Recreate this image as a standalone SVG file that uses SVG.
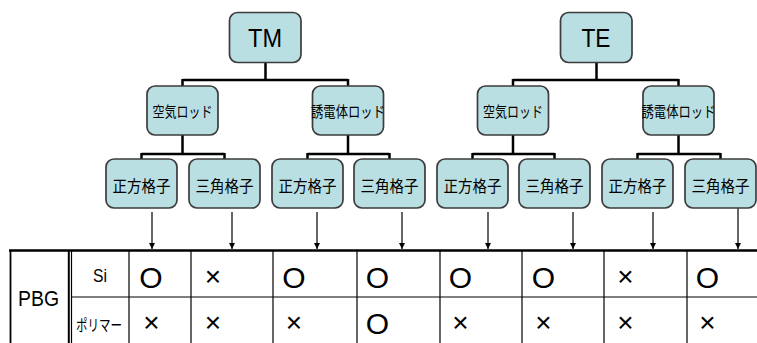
<svg xmlns="http://www.w3.org/2000/svg" width="757" height="343" viewBox="0 0 757 343">
<style>
.box{fill:#b9dfe3;stroke:#3c3c3c;stroke-width:1.7}
.conn{stroke:#000;stroke-width:2.5;fill:none}
.arr{stroke:#000;stroke-width:1.2;fill:none}
.grid{stroke:#000;stroke-width:1.2;fill:none}
.big{font-family:"Liberation Sans",Arial,sans-serif;font-size:26px;fill:#000;text-anchor:middle}
.jp{font-family:"Noto Sans CJK JP",sans-serif;fill:#000;text-anchor:middle}
.l2{font-size:15px}
.l3{font-size:16px}
.mk{font-family:"Liberation Sans",Arial,sans-serif;fill:#000;text-anchor:middle}
.o{font-size:30px}
.x{font-size:28px}
.lab{font-family:"Liberation Sans",Arial,sans-serif;fill:#000;text-anchor:middle}
</style>
<defs>
<marker id="ah" markerWidth="7" markerHeight="7" refX="6" refY="3.5" orient="auto" markerUnits="userSpaceOnUse">
<path d="M0,0.5 L6,3.5 L0,6.5 Z" fill="#000"/>
</marker>
</defs>
<rect width="757" height="343" fill="#fff"/>

<g id="connectors">
<path class="conn" d="M265.5,62 V80 M182.5,80 H348 M182.5,79 V86 M348,79 V86"/>
<path class="conn" d="M596.5,62 V80 M513,80 H678.5 M513,79 V86 M678.5,79 V86"/>
<path class="conn" d="M182.5,135 V154 M141.5,154 H224.5 M141.5,153 V159 M224.5,153 V159"/>
<path class="conn" d="M348,135 V154 M307.5,154 H389.5 M307.5,153 V159 M389.5,153 V159"/>
<path class="conn" d="M513,135 V154 M472.5,154 H554.5 M472.5,153 V159 M554.5,153 V159"/>
<path class="conn" d="M678.5,135 V154 M637.5,154 H720.5 M637.5,153 V159 M720.5,153 V159"/>
<line class="arr" x1="152" y1="212" x2="152" y2="249" marker-end="url(#ah)"/>
<line class="arr" x1="232" y1="212" x2="232" y2="249" marker-end="url(#ah)"/>
<line class="arr" x1="317" y1="212" x2="317" y2="249" marker-end="url(#ah)"/>
<line class="arr" x1="402" y1="212" x2="402" y2="249" marker-end="url(#ah)"/>
<line class="arr" x1="488" y1="212" x2="488" y2="249" marker-end="url(#ah)"/>
<line class="arr" x1="573" y1="212" x2="573" y2="249" marker-end="url(#ah)"/>
<line class="arr" x1="653" y1="212" x2="653" y2="249" marker-end="url(#ah)"/>
<line class="arr" x1="738" y1="205" x2="738" y2="249" marker-end="url(#ah)"/>
</g>

<g id="TM"><rect class="box" x="229.5" y="12.5" width="71.5" height="50" rx="8"/><text class="big" x="265" y="47" textLength="34" lengthAdjust="spacingAndGlyphs">TM</text></g>
<g id="TE"><rect class="box" x="560.5" y="12.5" width="71.5" height="50" rx="8"/><text class="big" x="596" y="47" textLength="29" lengthAdjust="spacingAndGlyphs">TE</text></g>

<g id="tm-air"><rect class="box" x="147" y="86" width="71" height="49" rx="8"/><text class="jp l2" x="182.5" y="117" textLength="60" lengthAdjust="spacingAndGlyphs">空気ロッド</text></g>
<g id="tm-diel"><rect class="box" x="312.5" y="86" width="71" height="49" rx="8"/><text class="jp l2" x="348" y="117" textLength="74" lengthAdjust="spacingAndGlyphs">誘電体ロッド</text></g>
<g id="te-air"><rect class="box" x="477.5" y="86" width="71" height="49" rx="8"/><text class="jp l2" x="513" y="117" textLength="60" lengthAdjust="spacingAndGlyphs">空気ロッド</text></g>
<g id="te-diel"><rect class="box" x="643" y="86" width="71" height="49" rx="8"/><text class="jp l2" x="678.5" y="117" textLength="74" lengthAdjust="spacingAndGlyphs">誘電体ロッド</text></g>

<g id="tm-air-sq"><rect class="box" x="106" y="159" width="71" height="49" rx="8"/><text class="jp l3" x="141.5" y="191.5" textLength="58" lengthAdjust="spacingAndGlyphs">正方格子</text></g>
<g id="tm-air-tri"><rect class="box" x="189" y="159" width="71" height="49" rx="8"/><text class="jp l3" x="224.5" y="191.5" textLength="58" lengthAdjust="spacingAndGlyphs">三角格子</text></g>
<g id="tm-diel-sq"><rect class="box" x="272" y="159" width="71" height="49" rx="8"/><text class="jp l3" x="307.5" y="191.5" textLength="58" lengthAdjust="spacingAndGlyphs">正方格子</text></g>
<g id="tm-diel-tri"><rect class="box" x="354" y="159" width="71" height="49" rx="8"/><text class="jp l3" x="389.5" y="191.5" textLength="58" lengthAdjust="spacingAndGlyphs">三角格子</text></g>
<g id="te-air-sq"><rect class="box" x="437" y="159" width="71" height="49" rx="8"/><text class="jp l3" x="472.5" y="191.5" textLength="58" lengthAdjust="spacingAndGlyphs">正方格子</text></g>
<g id="te-air-tri"><rect class="box" x="519" y="159" width="71" height="49" rx="8"/><text class="jp l3" x="554.5" y="191.5" textLength="58" lengthAdjust="spacingAndGlyphs">三角格子</text></g>
<g id="te-diel-sq"><rect class="box" x="602" y="159" width="71" height="49" rx="8"/><text class="jp l3" x="637.5" y="191.5" textLength="58" lengthAdjust="spacingAndGlyphs">正方格子</text></g>
<g id="te-diel-tri"><rect class="box" x="685" y="159" width="71" height="49" rx="8"/><text class="jp l3" x="720.5" y="191.5" textLength="58" lengthAdjust="spacingAndGlyphs">三角格子</text></g>

<g id="table">
<line x1="9" y1="250.5" x2="757" y2="250.5" stroke="#000" stroke-width="2.5"/>
<line x1="10.5" y1="250" x2="10.5" y2="343" stroke="#000" stroke-width="1.8"/>
<line x1="68.8" y1="250" x2="68.8" y2="343" stroke="#000" stroke-width="2"/>
<line x1="71.5" y1="250" x2="71.5" y2="343" stroke="#000" stroke-width="1.2"/>
<line class="grid" x1="72" y1="297" x2="757" y2="297"/>
<path class="grid" d="M129,250 V343 M191,250 V343 M273,250 V343 M357,250 V343 M440,250 V343 M522,250 V343 M604,250 V343 M687,250 V343"/>
<text class="lab" x="38.5" y="306" font-size="22" textLength="41" lengthAdjust="spacingAndGlyphs">PBG</text>
<text class="lab" x="100" y="282" font-size="19" textLength="14" lengthAdjust="spacingAndGlyphs">Si</text>
<text class="jp" x="99" y="330.5" font-size="16" textLength="46" lengthAdjust="spacingAndGlyphs">ポリマー</text>
<text class="mk o" x="151" y="288">O</text>
<text class="mk x" x="213" y="286">×</text>
<text class="mk o" x="294" y="288">O</text>
<text class="mk o" x="377.5" y="288">O</text>
<text class="mk o" x="460.5" y="288">O</text>
<text class="mk o" x="543.5" y="288">O</text>
<text class="mk x" x="625.5" y="286">×</text>
<text class="mk o" x="707.5" y="288">O</text>
<text class="mk x" x="151.5" y="332">×</text>
<text class="mk x" x="213" y="332">×</text>
<text class="mk x" x="294" y="332">×</text>
<text class="mk o" x="377.5" y="334">O</text>
<text class="mk x" x="460.5" y="332">×</text>
<text class="mk x" x="543.5" y="332">×</text>
<text class="mk x" x="625.5" y="332">×</text>
<text class="mk x" x="707.5" y="332">×</text>
</g>
</svg>
